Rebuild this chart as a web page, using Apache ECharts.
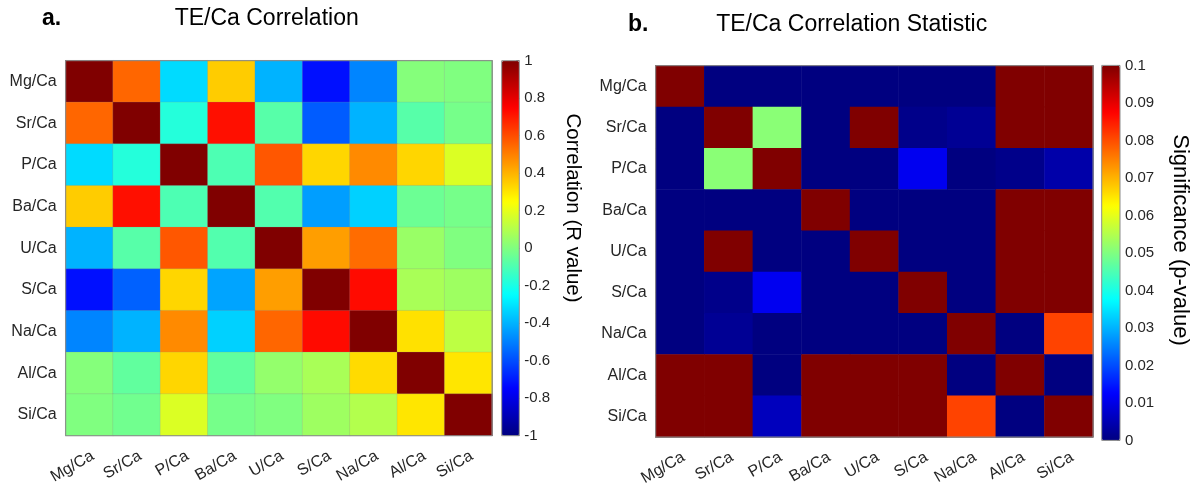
<!DOCTYPE html>
<html>
<head>
<meta charset="utf-8">
<script src="https://cdn.jsdelivr.net/npm/echarts@6/dist/echarts.min.js"></script>
<style>
  html, body { margin: 0; padding: 0; background: #fff; }
  #chart { width: 1200px; height: 488px; }
</style>
</head>
<body>
<div id="chart"></div>
<script>
// Element/Ca ratios, in row and column order
const elements = ['Mg/Ca', 'Sr/Ca', 'P/Ca', 'Ba/Ca', 'U/Ca', 'S/Ca', 'Na/Ca', 'Al/Ca', 'Si/Ca'];

// Pearson R between ratios (row i, column j)
const rValue = [
  [ 1.00,  0.55, -0.32,  0.35, -0.40, -0.72, -0.49,  0.01,  0.00],
  [ 0.55,  1.00, -0.18,  0.72, -0.08, -0.57, -0.40, -0.08, -0.02],
  [-0.32, -0.18,  1.00, -0.10,  0.58,  0.33,  0.48,  0.33,  0.18],
  [ 0.35,  0.72, -0.10,  1.00, -0.09, -0.44, -0.34, -0.04, -0.02],
  [-0.40, -0.08,  0.58, -0.09,  1.00,  0.44,  0.54,  0.05,  0.00],
  [-0.72, -0.56,  0.33, -0.43,  0.44,  1.00,  0.73,  0.08,  0.06],
  [-0.49, -0.40,  0.48, -0.34,  0.55,  0.73,  1.00,  0.31,  0.12],
  [ 0.01, -0.06,  0.33, -0.06,  0.04,  0.08,  0.32,  1.00,  0.30],
  [ 0.00, -0.03,  0.18, -0.02,  0.00,  0.06,  0.10,  0.30,  1.00]
];

// p-values of the same correlations (0.1 = at or above the colour limit)
const pValue = [
  [0.1,   0,     0,     0,   0,   0,     0,     0.1,   0.1  ],
  [0,     0.1,   0.051, 0,   0.1, 0.001, 0.002, 0.1,   0.1  ],
  [0,     0.051, 0.1,   0,   0,   0.011, 0,     0.001, 0.004],
  [0,     0,     0,     0.1, 0,   0,     0,     0.1,   0.1  ],
  [0,     0.1,   0,     0,   0.1, 0,     0,     0.1,   0.1  ],
  [0,     0.001, 0.011, 0,   0,   0.1,   0,     0.1,   0.1  ],
  [0,     0.002, 0,     0,   0,   0,     0.1,   0,     0.081],
  [0.1,   0.1,   0,     0.1, 0.1, 0.1,   0,     0.1,   0    ],
  [0.1,   0.1,   0.006, 0.1, 0.1, 0.1,   0.081, 0,     0.1  ]
];

// Colour-bar ranges and steps
const rRange = [-1, 1];
const rStep = 0.2;
const pRange = [0, 0.1];
const pStep = 0.01;

// Jet colour map, evenly spaced stops
const jet = ['#000080', '#0000ff', '#0080ff', '#00ffff', '#80ff80',
             '#ffff00', '#ff8000', '#ff0000', '#800000'];

const FONT = "'Liberation Sans', Arial, Helvetica, sans-serif";
const TXT = '#262626';
const BOX = '#8c8c8c';

function toCells(matrix) {
  const out = [];
  matrix.forEach((row, i) => row.forEach((v, j) => out.push([j, i, v])));
  return out;
}

function catAxis(gridIndex, position, showLabel, isX) {
  const ax = {
    type: 'category',
    gridIndex: gridIndex,
    position: position,
    data: elements,
    boundaryGap: true,
    axisLine: { show: true, lineStyle: { color: BOX, width: 1 } },
    axisTick: { show: true, inside: true, alignWithLabel: true, length: 4,
                lineStyle: { color: '#555' } },
    splitLine: { show: false },
    axisLabel: { show: showLabel, color: TXT, fontFamily: FONT, fontSize: 16 }
  };
  if (isX) {
    ax.axisLabel.rotate = 30;
    ax.axisLabel.margin = 21;
    ax.axisLabel.padding = [0, -4, 0, 0];
  } else {
    ax.inverse = true;
    ax.axisLabel.margin = 9;
  }
  return ax;
}

function barAxis(gridIndex, range, step) {
  return {
    type: 'value',
    gridIndex: gridIndex,
    position: 'right',
    min: range[0],
    max: range[1],
    interval: step,
    axisLine: { show: false },
    axisTick: { show: true, inside: true, length: 3, lineStyle: { color: '#555' } },
    splitLine: { show: false },
    axisLabel: { show: true, color: TXT, fontFamily: FONT, fontSize: 15, margin: 5,
                 formatter: v => String(+v.toFixed(3)) }
  };
}

function hiddenX(gridIndex) {
  return { type: 'category', gridIndex: gridIndex, data: [''], show: false };
}

const gridA = { left: 65.7, top: 60.7, width: 426.3, height: 375 };
const gridB = { left: 655.7, top: 65.7, width: 437.3, height: 375 };
const barA = { left: 501.7, top: 60.7, width: 17.6, height: 375 };
const barB = { left: 1101.7, top: 65.4, width: 18.3, height: 375 };

const chart = echarts.init(document.getElementById('chart'), null, { renderer: 'canvas' });

chart.setOption({
  backgroundColor: '#fff',
  animation: false,
  grid: [
    Object.assign({ show: true, borderColor: BOX, borderWidth: 1, backgroundColor: 'transparent', z: 3 }, gridA),
    Object.assign({ show: true, borderColor: BOX, borderWidth: 1, backgroundColor: 'transparent', z: 3 }, gridB),
    Object.assign({ show: true, borderColor: BOX, borderWidth: 1, backgroundColor: 'transparent', z: 6 }, barA),
    Object.assign({ show: true, borderColor: BOX, borderWidth: 1, backgroundColor: 'transparent', z: 6 }, barB)
  ],
  xAxis: [
    catAxis(0, 'bottom', true, true),
    catAxis(0, 'top', false, true),
    catAxis(1, 'bottom', true, true),
    catAxis(1, 'top', false, true),
    hiddenX(2),
    hiddenX(3)
  ],
  yAxis: [
    catAxis(0, 'left', true, false),
    catAxis(0, 'right', false, false),
    catAxis(1, 'left', true, false),
    catAxis(1, 'right', false, false),
    barAxis(2, rRange, rStep),
    barAxis(3, pRange, pStep)
  ],
  visualMap: [
    {
      type: 'continuous', seriesIndex: 0, min: rRange[0], max: rRange[1],
      calculable: false, hoverLink: false, orient: 'vertical', padding: 0,
      left: barA.left, top: barA.top, itemWidth: barA.width, itemHeight: barA.height,
      text: null, showLabel: false, inRange: { color: jet }
    },
    {
      type: 'continuous', seriesIndex: 1, min: pRange[0], max: pRange[1],
      calculable: false, hoverLink: false, orient: 'vertical', padding: 0,
      left: barB.left, top: barB.top, itemWidth: barB.width, itemHeight: barB.height,
      text: null, showLabel: false, inRange: { color: jet }
    }
  ],
  series: [
    {
      name: 'R', type: 'heatmap', xAxisIndex: 0, yAxisIndex: 0,
      data: toCells(rValue),
      itemStyle: { borderColor: 'rgba(140,140,140,0.35)', borderWidth: 0.6 },
      emphasis: { disabled: true }
    },
    {
      name: 'p', type: 'heatmap', xAxisIndex: 2, yAxisIndex: 2,
      data: toCells(pValue),
      emphasis: { disabled: true }
    }
  ],
  graphic: [
    { type: 'text', x: 42, y: 19, style: { text: 'a.', fill: '#000', fontFamily: FONT, fontSize: 23, fontWeight: 'bold', align: 'left', verticalAlign: 'middle' } },
    { type: 'text', x: 266.7, y: 19, style: { text: 'TE/Ca Correlation', fill: '#000', fontFamily: FONT, fontSize: 23, align: 'center', verticalAlign: 'middle' } },
    { type: 'text', x: 628, y: 25, style: { text: 'b.', fill: '#000', fontFamily: FONT, fontSize: 23, fontWeight: 'bold', align: 'left', verticalAlign: 'middle' } },
    { type: 'text', x: 851.7, y: 25, style: { text: 'TE/Ca Correlation Statistic', fill: '#000', fontFamily: FONT, fontSize: 23, align: 'center', verticalAlign: 'middle' } },
    { type: 'text', x: 573, y: 208, rotation: -Math.PI / 2, style: { text: 'Correlation (R value)', fill: '#000', fontFamily: FONT, fontSize: 20.5, align: 'center', verticalAlign: 'middle' } },
    { type: 'text', x: 1180, y: 240, rotation: -Math.PI / 2, style: { text: 'Significance (p-value)', fill: '#000', fontFamily: FONT, fontSize: 22, align: 'center', verticalAlign: 'middle' } }
  ]
});
</script>
</body>
</html>
